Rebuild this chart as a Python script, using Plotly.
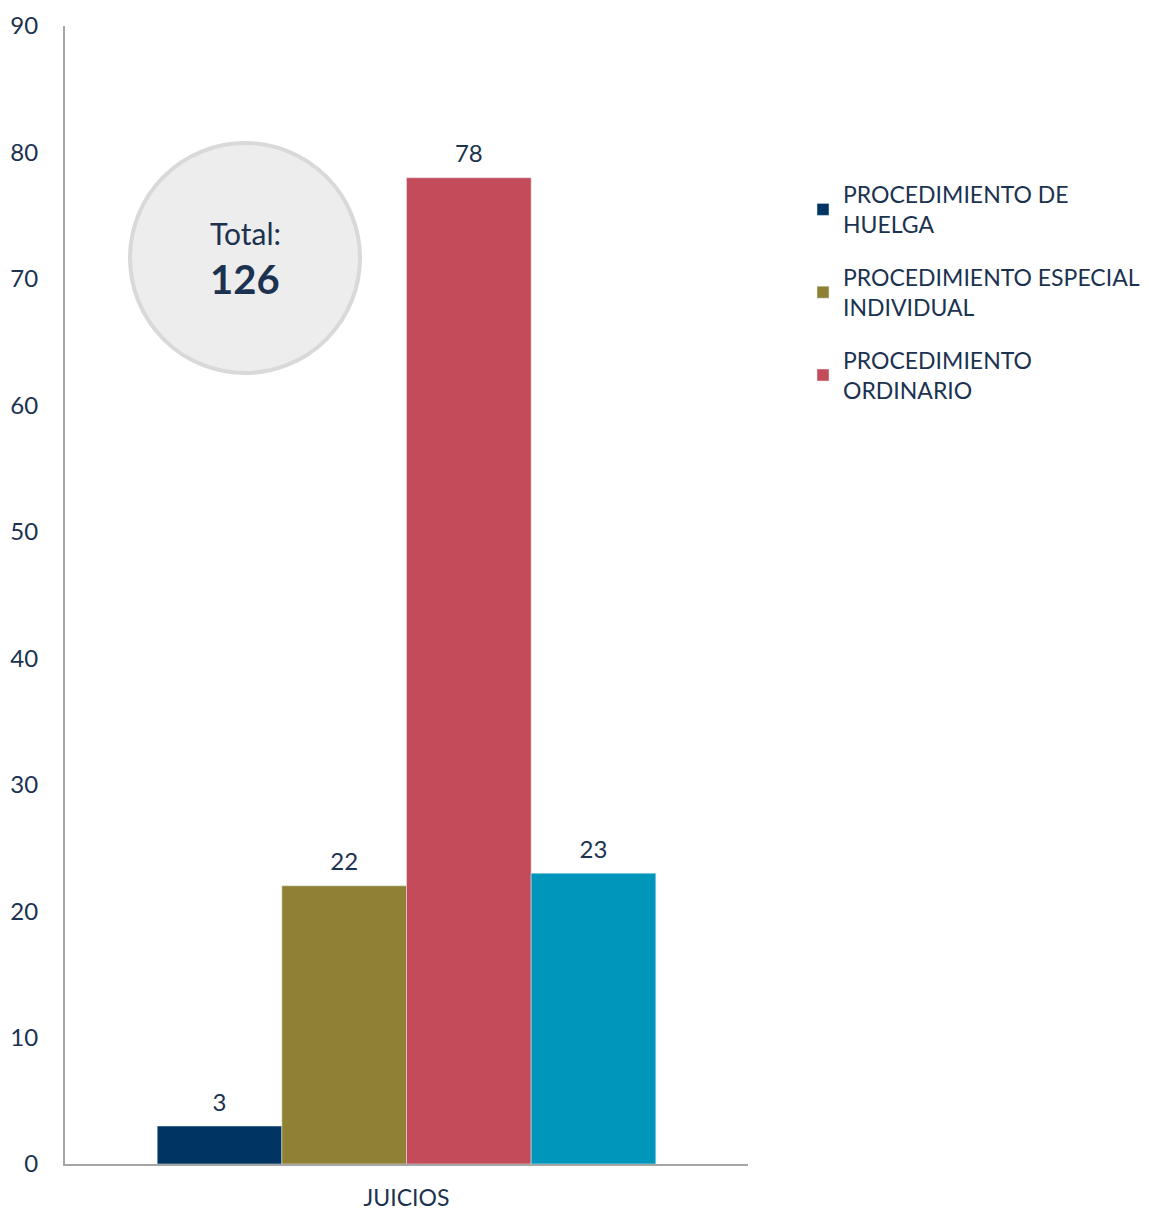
import plotly.graph_objects as go

categories = ["JUICIOS"]
series_names = [
    "PROCEDIMIENTO DE<br>HUELGA",
    "PROCEDIMIENTO ESPECIAL<br>INDIVIDUAL",
    "PROCEDIMIENTO<br>ORDINARIO",
    "OTROS",
]
series_values = [[3], [22], [78], [23]]
series_colors = ["#003462", "#8E8133", "#C34B5A", "#0096BB"]
show_in_legend = [True, True, True, False]
total_label = "126"

FONT = "Lato"
TXT = "#1B3250"

# plot area in screen pixels (page body has an 8px margin)
L, R, T, B = 65, 748, 26, 1164
OFF = 8
W, H = 1149, 1212
PW, PH = R - L, B - T

def px(x):
    return (x - L) / PW

def py(y):
    return (B - y) / PH

fig = go.Figure()
for i, (name, vals, col, sl) in enumerate(zip(series_names, series_values, series_colors, show_in_legend)):
    fig.add_trace(go.Bar(
        x=categories, y=vals, name=name, marker_color=col,
        text=["<span style='font-size:24px'>%d</span><br> " % v for v in vals],
        textposition="outside",
        textfont=dict(size=8, color=TXT, family=FONT),
        cliponaxis=False, showlegend=sl, legendgroup="g%d" % i,
    ))

fig.update_layout(
    width=W, height=H,
    margin=dict(l=L - OFF, r=W - (R - OFF), t=T - OFF, b=H - (B - OFF)),
    paper_bgcolor="white", plot_bgcolor="white",
    barmode="group", bargap=0.27, bargroupgap=0,
    font=dict(family=FONT, color=TXT, size=22),
    legend=dict(x=px(803), y=py(173), xanchor="left", yanchor="top",
                font=dict(size=23, color=TXT, family=FONT),
                tracegroupgap=20, itemwidth=30, bgcolor="rgba(0,0,0,0)"),
    xaxis=dict(showline=True, linecolor="#A6A6A6", linewidth=2,
               showgrid=False, ticks="", ticklabelstandoff=12,
               automargin=False, tickfont=dict(size=23, color=TXT)),
    yaxis=dict(range=[0, 90], dtick=10, showline=True, linecolor="#A6A6A6",
               linewidth=2, showgrid=False, zeroline=False, ticks="",
               automargin=False,
               ticklabelstandoff=20, tickfont=dict(size=24, color=TXT)),
    shapes=[dict(type="circle", xref="paper", yref="paper",
                 x0=px(130), x1=px(360), y0=py(373), y1=py(143),
                 fillcolor="#EDEDED", line=dict(color="#D9D9D9", width=4),
                 layer="below")],
    annotations=[
        dict(xref="paper", yref="paper", x=px(245), y=py(233),
             xanchor="center", yanchor="middle",
             text="Total:", showarrow=False,
             font=dict(size=30, color=TXT, family=FONT)),
        dict(xref="paper", yref="paper", x=px(245), y=py(279),
             xanchor="center", yanchor="middle",
             text="<b>" + total_label + "</b>", showarrow=False,
             font=dict(size=40, color=TXT, family=FONT)),
    ],
)

fig.write_html("out.html")
